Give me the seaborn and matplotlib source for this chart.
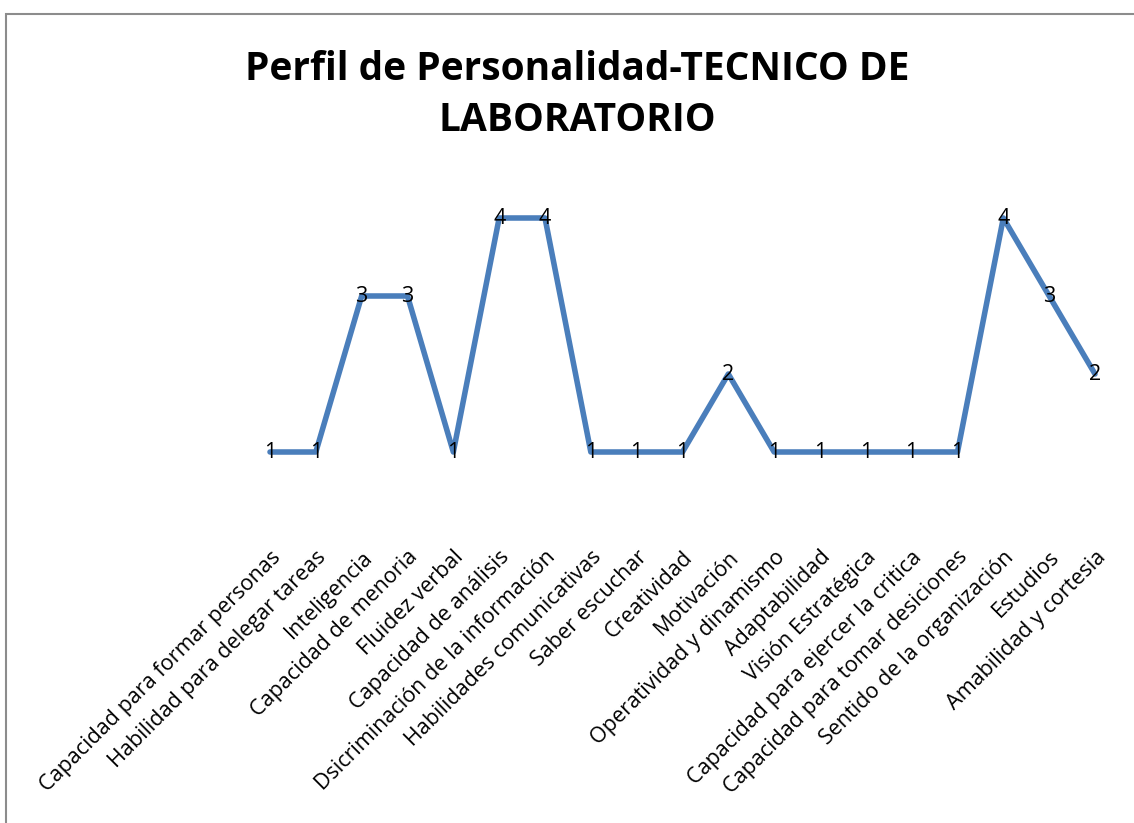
import matplotlib
matplotlib.use('Agg')
import matplotlib.pyplot as plt
import matplotlib.patches as mpatches
import seaborn as sns
import pandas as pd

# datos del perfil
competencias = [
    'Capacidad para formar personas', 'Habilidad para delegar tareas',
    'Inteligencia', 'Capacidad de menoria', 'Fluidez verbal',
    'Capacidad de análisis', 'Dsicriminación de la información',
    'Habilidades comunicativas', 'Saber escuchar', 'Creatividad',
    'Motivación', 'Operatividad y dinamismo', 'Adaptabilidad',
    'Visión Estratégica', 'Capacidad para ejercer la critica',
    'Capacidad para tomar desiciones', 'Sentido de la organización',
    'Estudios', 'Amabilidad y cortesia',
]
puntaje = [1, 1, 3, 3, 1, 4, 4, 1, 1, 1, 2, 1, 1, 1, 1, 1, 4, 3, 2]
titulo = 'Perfil de Personalidad-TECNICO DE\nLABORATORIO'

df = pd.DataFrame({'pos': range(len(competencias)), 'valor': puntaje})

sns.set_style('white')
plt.rcParams['font.family'] = ['Open Sans', 'DejaVu Sans']
plt.rcParams['text.color'] = 'black'
plt.rcParams['xtick.color'] = 'black'

W, H = 1134, 823
fig = plt.figure(figsize=(W / 100, H / 100), dpi=100)

# marco gris alrededor del grafico
fig.patches.append(mpatches.Rectangle((6 / W, -0.05), 1.2, (H - 13.5) / H + 0.05,
                                      transform=fig.transFigure, fill=False,
                                      edgecolor='#8c8c8c', linewidth=1.5))

# ejes: x 0 -> 270px, 18 -> 1095px ; y 0 -> 530px, 4 -> 218px
sp = (1095 - 270) / 18
left = 270 - sp * 0.5
right = 1095 + sp * 0.5
unit = (530 - 218) / 4
ax = fig.add_axes([left / W, (H - 530) / H, (right - left) / W, 4.5 * unit / H])

sns.lineplot(data=df, x='pos', y='valor', ax=ax, color='#4A7EBB',
             linewidth=4, clip_on=False)
for x, y in zip(df['pos'], df['valor']):
    ax.text(x, y, str(y), ha='center', va='center', fontsize=15.5, color='black')

ax.set_xlim(-0.5, len(competencias) - 0.5)
ax.set_ylim(0, 4.5)
ax.set_xticks(range(len(competencias)))
ax.set_xticklabels(competencias, rotation=45, ha='right', rotation_mode='anchor',
                   fontsize=15.5, color='black')
ax.tick_params(axis='x', length=0, pad=12)
ax.set_yticks([])
ax.set_xlabel('')
ax.set_ylabel('')
for s in ax.spines.values():
    s.set_visible(False)

fig.text(577 / W, 1 - 95 / H, titulo, ha='center', va='center', fontsize=28,
         fontweight='bold', linespacing=1.4, color='black')

fig.savefig('out.png', dpi=100)
